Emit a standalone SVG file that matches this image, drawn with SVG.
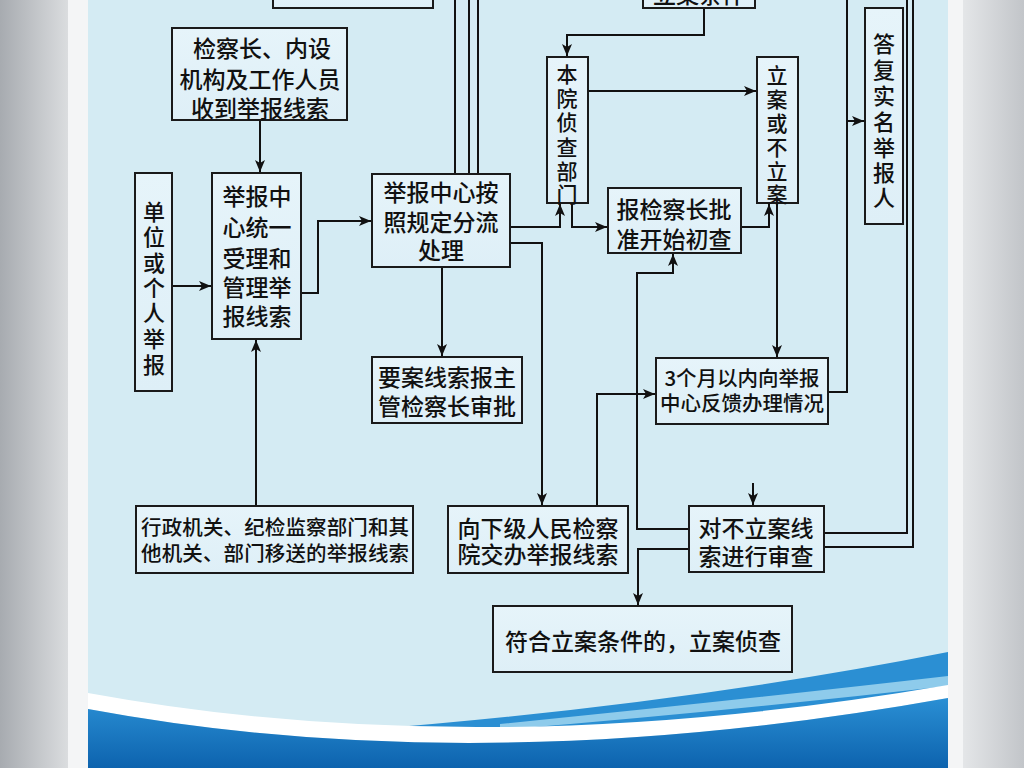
<svg xmlns="http://www.w3.org/2000/svg" width="1024" height="768" viewBox="0 0 1024 768">
<defs>
<linearGradient id="gl" x1="0" y1="0" x2="1" y2="0"><stop offset="0" stop-color="#a7abb0"/><stop offset="1" stop-color="#dcdee0"/></linearGradient>
<linearGradient id="gr" x1="0" y1="0" x2="1" y2="0"><stop offset="0" stop-color="#e4e6e8"/><stop offset="1" stop-color="#c2c5c9"/></linearGradient>
<linearGradient id="gb" x1="0" y1="0" x2="0" y2="1"><stop offset="0" stop-color="#2a8fd4"/><stop offset="1" stop-color="#0d63ae"/></linearGradient>
<linearGradient id="bx" x1="0" y1="0" x2="0" y2="1"><stop offset="0" stop-color="#e6f4fa"/><stop offset="1" stop-color="#deeff7"/></linearGradient>
<marker id="ar" markerUnits="userSpaceOnUse" markerWidth="12" markerHeight="10" refX="12" refY="5" orient="auto"><path d="M0,0 L12,5 L0,10 L3,5 Z" fill="#111"/></marker>
</defs>
<style>
.box{fill:url(#bx);stroke:#1a1a1a;stroke-width:2}
.t{font-family:"Noto Sans CJK SC","Noto Sans",sans-serif;font-weight:500;font-size:23px;fill:#111;text-anchor:middle;dominant-baseline:central}
.s{font-size:20.5px}
.v{font-size:22px}
.w{font-size:21px}
.c{fill:none;stroke:#111;stroke-width:2}
.a{marker-end:url(#ar)}
</style>
<rect x="0" y="0" width="70" height="768" fill="url(#gl)"/>
<rect x="68" y="0" width="20" height="768" fill="#f4f5f6"/>
<rect x="948" y="0" width="16" height="768" fill="#f4f5f6"/>
<rect x="963" y="0" width="61" height="768" fill="url(#gr)"/>
<rect x="88" y="0" width="860" height="768" fill="#d4ebf3"/>
<g id="wave">
<path d="M360,730 Q680,705 948,652 L948,692 Q640,745 360,730 Z" fill="#2b8fd3"/>
<path d="M500,724 Q740,700 948,676 L948,686 Q720,712 500,730 Z" fill="#8ecbeb"/>
<path d="M88,693 Q480,765 948,685 L948,698 Q480,782 88,709 Z" fill="#ffffff"/>
<path d="M88,709 Q480,782 948,698 L948,768 L88,768 Z" fill="url(#gb)"/>
</g>
<g id="connectors">
<path class="c a" d="M260,120 V172"/>
<path class="c a" d="M172,286 H211"/>
<path class="c a" d="M256,506 V340"/>
<path class="c a" d="M301,293 H318 V221 H371"/>
<path class="c" d="M455,0 V174 M469,0 V174 M478,0 V174"/>
<path class="c a" d="M510,227 H560 V204"/>
<path class="c a" d="M510,243 H542 V505"/>
<path class="c a" d="M442,267 V356"/>
<path class="c a" d="M572,203 V227 H607"/>
<path class="c a" d="M704,8 V35 H567 V56"/>
<path class="c a" d="M588,91 H756"/>
<path class="c a" d="M741,227 H769 V204"/>
<path class="c a" d="M777,203 V357"/>
<path class="c" d="M828,392 H847 V0"/>
<path class="c a" d="M847,121 H864"/>
<path class="c" d="M824,533 H907 V0 M824,547 H913 V0"/>
<path class="c a" d="M753,483 V505"/>
<path class="c a" d="M689,529 H637 V273 H673 V254"/>
<path class="c a" d="M689,549 H638 V605"/>
<path class="c a" d="M597,506 V394 H655"/>
</g>
<g id="n-top-left"><rect class="box" x="273" y="-30" width="160" height="38"/></g>
<g id="n-top-right"><rect class="box" x="643" y="-30" width="112" height="38"/><text class="t" x="699" y="-7" font-size="24">立案条件</text></g>
<g id="n-jcz"><rect class="box" x="172" y="28" width="175" height="92"/>
<text class="t" x="262" y="47">检察长、内设</text><text class="t" x="260" y="78">机构及工作人员</text><text class="t" x="260" y="107">收到举报线索</text></g>
<g id="n-jbzx"><rect class="box" x="212" y="173" width="89" height="166"/>
<text class="t" x="257" y="195">举报中</text><text class="t" x="257" y="226">心统一</text><text class="t" x="257" y="257">受理和</text><text class="t" x="257" y="286">管理举</text><text class="t" x="257" y="315">报线索</text></g>
<g id="n-dw"><rect class="box" x="135" y="173" width="37" height="218"/>
<text class="t v" x="154" y="210">单</text><text class="t v" x="154" y="235">位</text><text class="t v" x="154" y="261">或</text><text class="t v" x="154" y="286">个</text><text class="t v" x="154" y="311">人</text><text class="t v" x="154" y="337">举</text><text class="t v" x="154" y="363">报</text></g>
<g id="n-xz"><rect class="box" x="136" y="506" width="277" height="67"/>
<text class="t s" x="275" y="526" textLength="268">行政机关、纪检监察部门和其</text><text class="t s" x="275" y="552" textLength="268">他机关、部门移送的举报线索</text></g>
<g id="n-fl"><rect class="box" x="372" y="174" width="138" height="93"/>
<text class="t" x="441" y="191">举报中心按</text><text class="t" x="441" y="221">照规定分流</text><text class="t" x="441" y="249">处理</text></g>
<g id="n-ya"><rect class="box" x="372" y="357" width="150" height="66"/>
<text class="t" x="447" y="376">要案线索报主</text><text class="t" x="447" y="405">管检察长审批</text></g>
<g id="n-by"><rect class="box" x="547" y="57" width="41" height="146"/>
<text class="t w" x="567" y="73">本</text><text class="t w" x="567" y="97">院</text><text class="t w" x="567" y="121">侦</text><text class="t w" x="567" y="146">查</text><text class="t w" x="567" y="170">部</text><text class="t w" x="567" y="193">门</text></g>
<g id="n-la"><rect class="box" x="757" y="57" width="41" height="146"/>
<text class="t w" x="777" y="74">立</text><text class="t w" x="777" y="98">案</text><text class="t w" x="777" y="122">或</text><text class="t w" x="777" y="146">不</text><text class="t w" x="777" y="170">立</text><text class="t w" x="777" y="193">案</text></g>
<g id="n-bj"><rect class="box" x="608" y="188" width="133" height="65"/>
<text class="t" x="674" y="208">报检察长批</text><text class="t" x="674" y="238">准开始初查</text></g>
<g id="n-sgy"><rect class="box" x="656" y="358" width="172" height="66"/>
<text class="t s" x="742" y="377">3个月以内向举报</text><text class="t s" x="742" y="402">中心反馈办理情况</text></g>
<g id="n-dbl"><rect class="box" x="689" y="506" width="135" height="66"/>
<text class="t" x="756" y="527">对不立案线</text><text class="t" x="756" y="555">索进行审查</text></g>
<g id="n-xxj"><rect class="box" x="448" y="506" width="180" height="67"/>
<text class="t" x="538" y="527">向下级人民检察</text><text class="t" x="538" y="553">院交办举报线索</text></g>
<g id="n-fh"><rect class="box" x="493" y="606" width="299" height="66"/>
<text class="t" x="643" y="640">符合立案条件的，立案侦查</text></g>
<g id="n-df"><rect class="box" x="865" y="8" width="38" height="216"/>
<text class="t v" x="884" y="42">答</text><text class="t v" x="884" y="68">复</text><text class="t v" x="884" y="94">实</text><text class="t v" x="884" y="120">名</text><text class="t v" x="884" y="146">举</text><text class="t v" x="884" y="171">报</text><text class="t v" x="884" y="196">人</text></g>
</svg>
